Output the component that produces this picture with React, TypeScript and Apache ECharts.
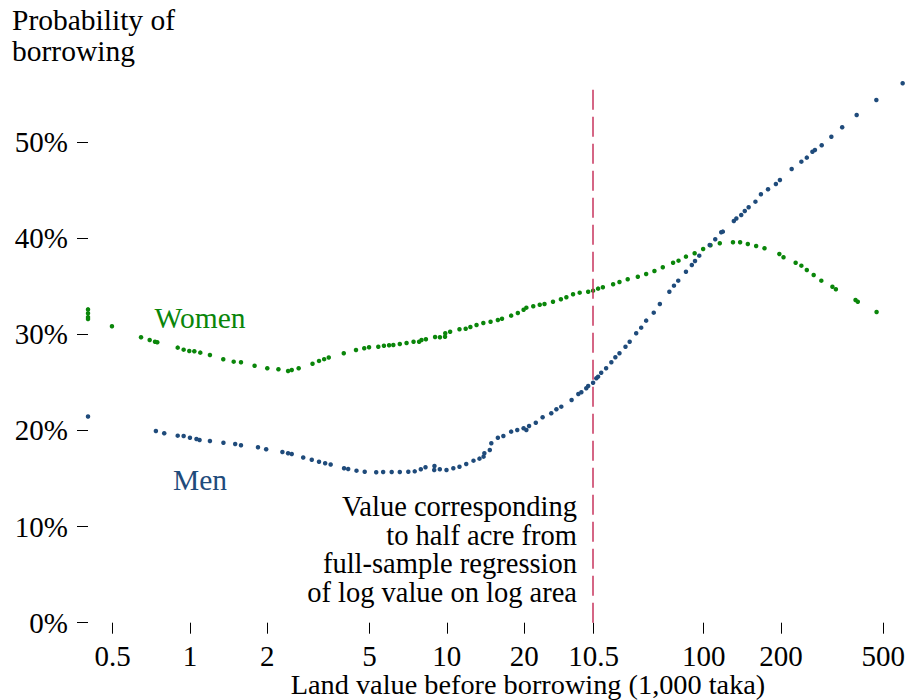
import React, { useEffect, useRef } from "react";
import * as echarts from "echarts";

// Land value (1,000 taka) and probability of borrowing (%)
const WOMEN_X = [0.401, 0.401, 0.401, 0.401, 0.497, 0.645, 0.697, 0.731, 0.746, 0.896, 0.945, 0.994, 1.04, 1.097, 1.196, 1.348, 1.48, 1.58, 1.785, 2.0, 2.21, 2.41, 2.49, 2.65, 3.0, 3.18, 3.33, 3.47, 3.97, 4.43, 4.77, 4.98, 5.41, 5.69, 5.96, 6.19, 6.56, 6.97, 7.42, 7.8, 7.97, 8.29, 9.0, 9.4, 9.84, 9.86, 10.3, 11.2, 11.84, 12.35, 13.05, 13.87, 14.8, 15.8, 16.4, 17.8, 18.9, 19.9, 20.4, 21.7, 23.0, 24.0, 25.9, 27.8, 29.2, 31.0, 32.9, 35.5, 37.1, 38.8, 40.5, 44.4, 47.0, 50.6, 55.4, 59.7, 64.3, 69.3, 76.0, 79.8, 85.3, 92.2, 99.5, 106.3, 115.5, 130, 138.6, 148.5, 160, 172.5, 197, 204.5, 228, 240, 252, 268, 287, 317, 327, 390, 398, 471];
const WOMEN_Y = [32.6, 32.2, 31.8, 31.6, 30.85, 29.7, 29.42, 29.24, 29.18, 28.62, 28.41, 28.27, 28.24, 28.1, 27.86, 27.41, 27.16, 27.1, 26.74, 26.47, 26.37, 26.19, 26.3, 26.47, 26.95, 27.24, 27.42, 27.6, 28.03, 28.38, 28.55, 28.66, 28.72, 28.82, 28.87, 28.9, 29.0, 29.11, 29.24, 29.24, 29.42, 29.49, 29.73, 29.7, 29.76, 30.11, 30.28, 30.53, 30.59, 30.77, 30.98, 31.19, 31.32, 31.5, 31.63, 31.95, 32.23, 32.57, 32.78, 32.92, 33.09, 33.16, 33.4, 33.65, 33.86, 34.17, 34.34, 34.44, 34.55, 34.76, 34.9, 35.21, 35.45, 35.73, 36.0, 36.29, 36.6, 36.98, 37.46, 37.67, 38.09, 38.44, 38.89, 39.27, 39.48, 39.58, 39.58, 39.41, 39.2, 38.96, 38.37, 38.02, 37.46, 37.15, 36.7, 36.18, 35.59, 34.96, 34.69, 33.58, 33.4, 32.33];

const MEN_X = [0.401, 0.737, 0.794, 0.896, 0.945, 1.0, 1.06, 1.09, 1.196, 1.35, 1.5, 1.58, 1.84, 1.98, 2.29, 2.41, 2.49, 2.76, 2.98, 3.18, 3.36, 3.53, 3.98, 4.13, 4.45, 4.79, 5.31, 5.65, 6.1, 6.56, 7.08, 7.5, 7.92, 8.26, 8.93, 8.95, 9.39, 9.97, 10.6, 11.2, 11.9, 12.7, 13.4, 13.9, 14.0, 14.7, 14.9, 15.8, 16.6, 17.8, 18.8, 19.9, 20.4, 20.9, 22.2, 23.6, 25.5, 26.7, 27.9, 30.6, 32.5, 33.4, 34.9, 35.5, 37.1, 38.2, 38.8, 39.9, 41.7, 43.7, 45.3, 47.0, 49.6, 51.5, 54.6, 57.1, 59.7, 63.9, 67.5, 73.5, 76.6, 79.6, 85.3, 89.9, 92.5, 96.1, 105.5, 110.9, 117, 118.7, 131, 134, 140, 144.5, 149.6, 159, 167, 178, 191, 198, 220, 240, 252, 265, 271, 288, 314, 346, 394, 470, 595];
const MEN_Y = [21.45, 19.95, 19.71, 19.46, 19.43, 19.25, 19.12, 19.01, 18.91, 18.73, 18.6, 18.46, 18.25, 18.04, 17.76, 17.63, 17.55, 17.19, 16.96, 16.75, 16.59, 16.46, 16.07, 15.99, 15.82, 15.71, 15.65, 15.68, 15.68, 15.68, 15.71, 15.75, 15.96, 16.17, 15.89, 16.31, 15.96, 15.89, 16.07, 16.23, 16.51, 16.86, 17.07, 17.28, 17.63, 17.97, 18.67, 19.25, 19.43, 19.88, 20.05, 20.23, 20.05, 20.47, 20.81, 21.37, 21.79, 22.21, 22.48, 23.17, 23.8, 23.98, 24.39, 24.63, 24.97, 25.43, 25.6, 26.01, 26.47, 27.1, 27.62, 28.03, 28.72, 29.24, 30.11, 30.7, 31.43, 32.26, 33.16, 34.44, 35.07, 35.59, 36.52, 37.22, 37.64, 38.19, 39.3, 39.9, 40.62, 40.69, 41.8, 42.06, 42.42, 42.84, 43.23, 43.81, 44.58, 45.1, 45.65, 46.07, 47.21, 47.97, 48.39, 49.01, 49.19, 49.68, 50.57, 51.55, 52.83, 54.39, 56.13];

const X_TICKS = [0.5, 1, 2, 5, 10, 20, 37.3, 100, 200, 500];
const X_TICK_LABELS = ["0.5", "1", "2", "5", "10", "20", "10.5", "100", "200", "500"];
const Y_TICKS = [0, 10, 20, 30, 40, 50];
const HALF_ACRE_VALUE = 37.3;

const GREEN = "#0a860a";
const BLUE = "#1f4b7b";
const RED = "#c8345e";
const FONT = "'Liberation Serif', 'Times New Roman', Times, serif";

export default function App() {
  const ref = useRef<HTMLDivElement>(null);

  useEffect(() => {
    if (!ref.current) return;
    const chart = echarts.init(ref.current, undefined, { renderer: "svg" });
    const lg = (v: number) => Math.log10(v);
    const xMin = (88 - 190) / 257;
    const xMax = 2.79;
    const tickLogs = X_TICKS.map(lg);
    const fmtX = (val: number) => {
      for (let i = 0; i < tickLogs.length; i++) {
        if (Math.abs(tickLogs[i] - val) < 1e-6) return X_TICK_LABELS[i];
      }
      return "";
    };
    const women = WOMEN_X.map((x, i) => [lg(x), WOMEN_Y[i]]);
    const men = MEN_X.map((x, i) => [lg(x), MEN_Y[i]]);

    chart.setOption({
      animation: false,
      backgroundColor: "#ffffff",
      textStyle: { fontFamily: FONT },
      grid: { left: 88, right: 1, top: 84.5, bottom: 77.3, containLabel: false },
      xAxis: {
        type: "value",
        min: xMin,
        max: xMax,
        axisLine: { show: false, onZero: false },
        splitLine: { show: false },
        axisTick: {
          show: true,
          customValues: tickLogs,
          length: 11,
          lineStyle: { color: "#000", width: 1 },
        },
        axisLabel: {
          customValues: tickLogs,
          formatter: fmtX,
          margin: 19,
          color: "#000",
          fontFamily: FONT,
          fontSize: 29,
        },
      },
      yAxis: {
        type: "value",
        min: 0,
        max: 56,
        axisLine: { show: false, onZero: false },
        splitLine: { show: false },
        axisTick: {
          show: true,
          customValues: Y_TICKS,
          length: 11,
          lineStyle: { color: "#000", width: 1 },
        },
        axisLabel: {
          customValues: Y_TICKS,
          formatter: (v: number) => v + "%",
          margin: 20,
          color: "#000",
          fontFamily: FONT,
          fontSize: 29,
        },
      },
      series: [
        {
          name: "Women",
          type: "scatter",
          data: women,
          symbol: "circle",
          symbolSize: 4.5,
          clip: false,
          itemStyle: { color: GREEN, opacity: 1 },
          markLine: {
            silent: true,
            symbol: "none",
            label: { show: false },
            lineStyle: { color: RED, width: 1.5, type: [20, 7] },
            data: [{ xAxis: lg(HALF_ACRE_VALUE) }],
          },
        },
        {
          name: "Men",
          type: "scatter",
          data: men,
          symbol: "circle",
          symbolSize: 4.5,
          clip: false,
          itemStyle: { color: BLUE, opacity: 1 },
        },
      ],
      graphic: [
        {
          type: "text",
          x: 12,
          y: 4,
          style: {
            text: "Probability of\nborrowing",
            fontFamily: FONT,
            fontSize: 29.5,
            fill: "#000",
            lineHeight: 31,
            textAlign: "left",
            textVerticalAlign: "top",
          },
        },
        {
          type: "text",
          x: 200,
          y: 318,
          style: {
            text: "Women",
            fontFamily: FONT,
            fontSize: 29.5,
            fill: GREEN,
            textAlign: "center",
            textVerticalAlign: "middle",
          },
        },
        {
          type: "text",
          x: 200,
          y: 480,
          style: {
            text: "Men",
            fontFamily: FONT,
            fontSize: 29.5,
            fill: BLUE,
            textAlign: "center",
            textVerticalAlign: "middle",
          },
        },
        {
          type: "text",
          x: 577,
          y: 492.5,
          style: {
            text: "Value corresponding\nto half acre from\nfull-sample regression\nof log value on log area",
            fontFamily: FONT,
            fontSize: 28.5,
            fill: "#000",
            lineHeight: 28.5,
            textAlign: "right",
            textVerticalAlign: "top",
          },
        },
        {
          type: "text",
          x: 528,
          y: 684.8,
          style: {
            text: "Land value before borrowing (1,000 taka)",
            fontFamily: FONT,
            fontSize: 28.3,
            fill: "#000",
            textAlign: "center",
            textVerticalAlign: "middle",
          },
        },
      ],
    });
    return () => chart.dispose();
  }, []);

  return (
    <div
      ref={ref}
      style={{ position: "fixed", left: 0, top: 0, width: 908, height: 700 }}
    />
  );
}
